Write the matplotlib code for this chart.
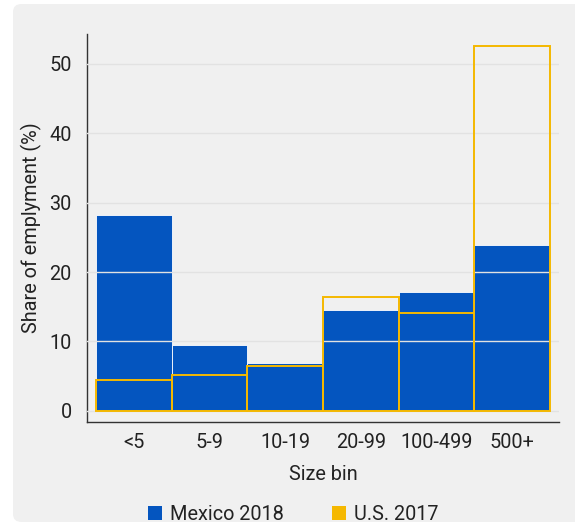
### Employment share by firm size bin: Mexico 2018 vs U.S. 2017
###

import matplotlib
matplotlib.use("Agg")
import matplotlib.pyplot as plt
from matplotlib.patches import FancyBboxPatch, Patch

plt.rcParams['font.family'] = ['Roboto', 'DejaVu Sans']

size_bins = ["<5", "5-9", "10-19", "20-99", "100-499", "500+"]
mexico_2018 = [28.2, 9.5, 6.9, 14.6, 17.1, 23.9]
us_2017 = [4.4, 5.2, 6.5, 16.4, 14.1, 52.6]

blue = '#0455bf'
gold = '#f5b800'
panel = '#f0f0f0'
fs = 14.3

fig = plt.figure(figsize=(5.75, 5.31), dpi=100)
fig.patch.set_facecolor('white')

# rounded grey card behind everything
card = FancyBboxPatch((13 / 575, 9 / 531), 1.0, 518 / 531,
                      boxstyle="round,pad=0,rounding_size=0.015",
                      transform=fig.transFigure, facecolor=panel,
                      edgecolor='none', zorder=-10)
fig.patches.append(card)

ax = fig.add_axes([87 / 575, 109 / 531, 472 / 575, 388 / 531])
ax.set_facecolor(panel)

x = range(len(size_bins))
ax.bar(x, mexico_2018, width=1.0, color=blue, edgecolor='white',
       linewidth=0.6, zorder=2)
ax.bar(x, us_2017, width=1.0, facecolor='none', edgecolor=gold,
       linewidth=1.4, zorder=4)

ax.set_xlim(-0.62, 5.62)
ax.set_ylim(-1.6, 54.3)
ax.set_yticks([0, 10, 20, 30, 40, 50])
ax.set_xticks(list(x))
ax.set_xticklabels(size_bins)
ax.grid(axis='y', color='#e2e2e2', linewidth=1.0, zorder=3)
ax.set_axisbelow(False)

for side in ['top', 'right']:
    ax.spines[side].set_visible(False)
for side in ['left', 'bottom']:
    ax.spines[side].set_color('#333333')
    ax.spines[side].set_linewidth(1.0)

ax.tick_params(axis='both', length=0, labelsize=fs, colors='#222222')
ax.tick_params(axis='y', pad=11)
ax.tick_params(axis='x', pad=8)
ax.set_xlabel("Size bin", fontsize=fs, color='#222222', labelpad=9)
ax.set_ylabel("Share of emplyment (%)", fontsize=fs, color='#222222', labelpad=5)

handles = [Patch(facecolor=blue, label="Mexico 2018"),
           Patch(facecolor=gold, label="U.S. 2017")]
fig.legend(handles=handles, loc='center', bbox_to_anchor=(0.51, 17 / 531),
           ncol=2, frameon=False, fontsize=fs, handlelength=0.7,
           handleheight=0.7, handletextpad=0.4, columnspacing=2.4,
           labelcolor='#222222')

plt.savefig("out.png", dpi=100)
